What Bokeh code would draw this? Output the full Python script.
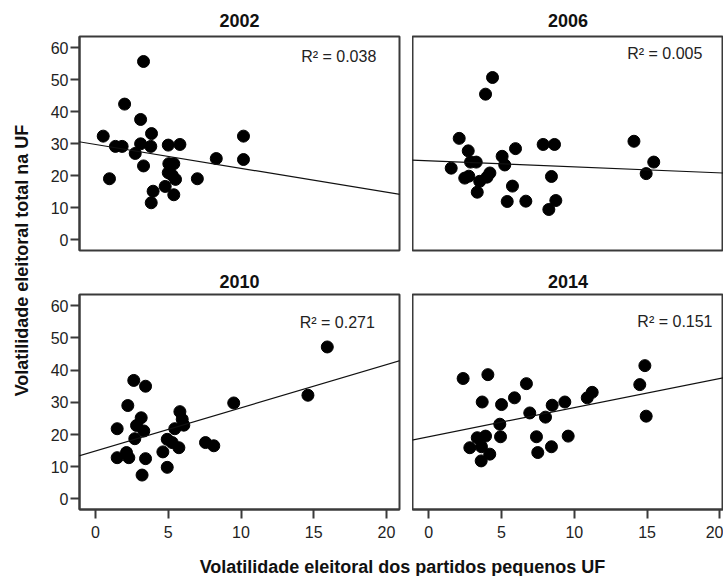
import numpy as np
from bokeh.plotting import figure
from bokeh.layouts import row, column
from bokeh.models import Slope, Range1d, FixedTicker, ColumnDataSource
from bokeh.core.properties import value
from bokeh.embed import file_html
from bokeh.resources import INLINE

# ---------------- data ----------------
years = ["2002", "2006", "2010", "2014"]

x2002 = [0.53, 0.96, 1.37, 1.83, 2.0, 2.73, 3.1, 3.1, 3.3, 3.3, 3.8, 3.85, 3.96, 3.83,
         4.79, 5.0, 5.04, 5.38, 5.0, 5.27, 5.5, 5.38, 5.8, 7.0, 8.3, 10.17, 10.17]
y2002 = [32.4, 19.1, 29.2, 29.2, 42.4, 27.0, 37.6, 30.0, 55.7, 23.1, 29.2, 33.2, 15.2, 11.6,
         16.7, 29.6, 23.8, 23.8, 21.0, 20.2, 18.9, 14.1, 29.8, 19.1, 25.4, 32.4, 25.1]

x2006 = [1.54, 2.09, 2.47, 2.75, 2.71, 2.87, 3.26, 3.33, 3.5, 3.9, 4.0, 4.2, 4.38, 5.04,
         5.22, 5.75, 5.96, 5.39, 6.67, 7.86, 8.64, 8.43, 8.73, 8.25, 14.1, 14.94, 15.46]
y2006 = [22.4, 31.7, 19.3, 19.9, 27.8, 24.3, 24.3, 14.9, 18.3, 45.5, 19.6, 20.9, 50.7, 26.1,
         23.4, 16.8, 28.5, 12.0, 12.1, 29.8, 29.8, 19.8, 12.3, 9.5, 30.8, 20.7, 24.3]

x2010 = [1.49, 1.49, 2.13, 2.29, 2.22, 2.63, 2.7, 2.82, 3.14, 3.2, 3.32, 3.44, 3.44, 4.63,
         4.93, 4.93, 5.27, 5.45, 5.73, 5.8, 5.96, 6.07, 7.56, 8.13, 9.5, 14.6, 15.93]
y2010 = [21.8, 12.8, 14.4, 12.8, 29.0, 36.8, 18.7, 22.8, 25.2, 7.4, 21.1, 35.0, 12.5, 14.6,
         9.8, 18.5, 17.5, 21.8, 15.9, 27.1, 24.7, 22.9, 17.5, 16.5, 29.8, 32.2, 47.2]

x2014 = [2.36, 2.82, 3.33, 3.62, 3.67, 3.6, 3.9, 4.06, 4.19, 4.88, 4.93, 5.0, 5.89, 6.71,
         6.94, 7.4, 7.49, 8.02, 8.48, 8.43, 9.35, 9.58, 10.89, 11.23, 14.5, 14.85, 14.94]
y2014 = [37.4, 15.9, 19.0, 16.2, 30.1, 11.8, 19.5, 38.6, 13.9, 23.2, 19.3, 29.3, 31.4, 35.8,
         26.7, 19.3, 14.4, 25.4, 29.1, 16.2, 30.1, 19.5, 31.4, 33.1, 35.5, 41.4, 25.7]

r2_values = ["0.038", "0.005", "0.271", "0.151"]
fit_intercept = [29.8, 24.7, 14.9, 19.3]
fit_slope = [-0.745, -0.188, 1.34, 0.906]

y_ticks = [0, 10, 20, 30, 40, 50, 60]
x_ticks = [0, 5, 10, 15, 20]
y_label = "Volatilidade eleitoral total na UF"
x_label = "Volatilidade eleitoral dos partidos pequenos UF"

xs = [x2002, x2006, x2010, x2014]
ys = [y2002, y2006, y2010, y2014]

# ---------------- style ----------------
FONT = "Liberation Sans"
AX = "#3a3a3a"
TXT = "#222222"
PX_PER_X = 14.55
r2_pos = [(19.3, 57.3), (18.8, 58.1), (19.2, 54.9), (19.5, 55.0)]


def make_panel(i, left, bottom):
    fw = 320 if left else 311
    x0 = -1.1 if left else -1.12
    p = figure(frame_width=fw, frame_height=214 if not bottom else 215,
               x_range=Range1d(x0, x0 + fw / PX_PER_X),
               y_range=Range1d(-3.3, 63.5),
               output_backend="svg", toolbar_location=None,
               x_axis_location="below" if bottom else None,
               y_axis_location="left" if left else None,
               min_border_left=39 if left else 0,
               min_border_right=13 if left else 0,
               min_border_top=28 if bottom else 36,
               min_border_bottom=36 if bottom else 15,
               title=years[i])
    p.title.align = "center"
    p.title.text_font = FONT
    p.title.text_font_size = "18px"
    p.title.text_font_style = "bold"
    p.title.text_color = "#111111"
    p.title.standoff = 14 if bottom else 19
    p.grid.visible = False
    p.outline_line_color = AX
    p.outline_line_width = 2
    p.background_fill_color = "white"
    p.border_fill_color = "white"
    for ax in p.axis:
        ax.axis_line_color = AX
        ax.axis_line_width = 2
        ax.major_tick_line_color = AX
        ax.major_tick_line_width = 2
        ax.major_tick_out = 9
        ax.major_tick_in = 0
        ax.minor_tick_line_color = None
        ax.major_label_text_font = FONT
        ax.major_label_text_font_size = "16px"
        ax.major_label_text_color = TXT
    if left:
        p.yaxis.ticker = FixedTicker(ticks=y_ticks)
        p.yaxis.major_label_standoff = 2
    if bottom:
        p.xaxis.ticker = FixedTicker(ticks=x_ticks)
        p.xaxis.major_label_standoff = 7
    p.add_layout(Slope(gradient=fit_slope[i], y_intercept=fit_intercept[i],
                       line_color="#111111", line_width=1.2))
    p.scatter(xs[i], ys[i], size=12, marker="circle", fill_color="black",
              line_color="black")
    src = ColumnDataSource(dict(x=[r2_pos[i][0]], y=[r2_pos[i][1]],
                                t=["R\u00b2 = " + r2_values[i]]))
    p.text(x="x", y="y", text="t", source=src, text_align="right",
           text_baseline="middle", text_font=value(FONT),
           text_font_size="16px", text_color=TXT)
    return p


p1 = make_panel(0, True, False)
p2 = make_panel(1, False, False)
p3 = make_panel(2, True, True)
p4 = make_panel(3, False, True)

H = 576
ylab = figure(width=40, height=H, x_range=Range1d(0, 40), y_range=Range1d(0, H),
              min_border=0, toolbar_location=None, output_backend="svg",
              x_axis_location=None, y_axis_location=None)
ylab.outline_line_color = None
ylab.grid.visible = False
ylab.text(x=[21], y=[H - 260], text=[y_label], angle=np.pi / 2, text_align="center",
          text_baseline="middle", text_font=value(FONT), text_font_style="bold",
          text_font_size="18px", text_color="#111111")

XW, XH = 683, 32
xlab = figure(width=XW, height=XH, x_range=Range1d(0, XW), y_range=Range1d(0, XH),
              min_border=0, toolbar_location=None, output_backend="svg",
              x_axis_location=None, y_axis_location=None)
xlab.outline_line_color = None
xlab.grid.visible = False
xlab.text(x=[362], y=[11], text=[x_label], text_align="center",
          text_baseline="middle", text_font=value(FONT), text_font_style="bold",
          text_font_size="18px", text_color="#111111")

layout = row(ylab, column(row(p1, p2), row(p3, p4), xlab))

with open("out.html", "w") as f:
    f.write(file_html(layout, INLINE))
